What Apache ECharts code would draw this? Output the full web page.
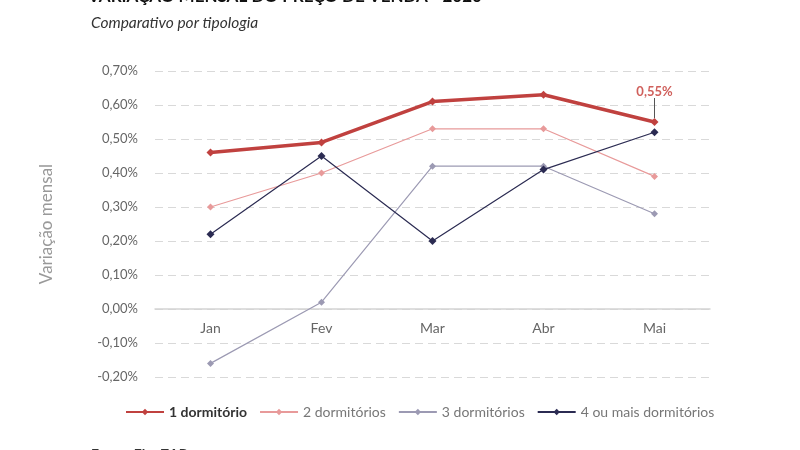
<!DOCTYPE html>
<html>
<head>
<meta charset="utf-8">
<script src="https://cdn.jsdelivr.net/npm/echarts@6/dist/echarts.min.js"></script>
<style>
  html, body { margin: 0; padding: 0; background: #fff; }
  #chart { width: 800px; height: 450px; }
</style>
</head>
<body>
<div id="chart"></div>
<script>
// dados
var meses = ['Jan', 'Fev', 'Mar', 'Abr', 'Mai'];
var nomes = ['1 dormitório', '2 dormitórios', '3 dormitórios', '4 ou mais dormitórios'];
var umDorm = [0.46, 0.49, 0.61, 0.63, 0.55];
var doisDorm = [0.30, 0.40, 0.53, 0.53, 0.39];
var tresDorm = [-0.16, 0.02, 0.42, 0.42, 0.28];
var quatroDorm = [0.22, 0.45, 0.20, 0.41, 0.52];
var cores = ['#c0413f', '#e89a9a', '#9c9ab3', '#2b2b52'];

var fonte = 'Lato';

function pct(v) {
	return v.toFixed(2).replace('.', ',') + '%';
}

var chart = echarts.init(document.getElementById('chart'));

function serie(nome, dados, cor, largura, tam) {
	return {
		name: nome,
		type: 'line',
		data: dados,
		symbol: 'diamond',
		symbolSize: tam,
		lineStyle: { color: cor, width: largura },
		itemStyle: { color: cor },
		emphasis: { disabled: true }
	};
}

var s1 = serie(nomes[0], umDorm.map(function (v, i) {
	if (i === umDorm.length - 1) {
		return {
			value: v,
			label: {
				show: true,
				position: 'top',
				distance: 20,
				formatter: function (p) { return pct(p.value); },
				color: '#d0605c',
				fontWeight: 'bold',
				fontSize: 13,
				fontFamily: fonte
			},
			labelLine: { show: true, lineStyle: { color: '#555', width: 1 } }
		};
	}
	return v;
}), cores[0], 3.5, 8);
s1.z = 5;
s1.labelLayout = { dx: 0 };

var option = {
	animation: false,
	textStyle: { fontFamily: fonte },
	graphic: [
		{
			type: 'text', left: 88, top: -12,
			style: { text: 'VARIAÇÃO MENSAL DO PREÇO DE VENDA - 2020', font: 'bold 17px Lato', fill: '#111' }
		},
		{
			type: 'text', left: 91, top: 15,
			style: { text: 'Comparativo por tipologia', font: 'italic 15.5px Lato', fill: '#333' }
		},
		{
			type: 'text', left: 91, top: 447,
			style: { text: 'Fonte: FipeZAP', font: 'bold 14px Lato', fill: '#333' }
		}
	],
	grid: { left: 155, right: 90, top: 71, bottom: 73 },
	legend: {
		bottom: 26,
		left: 120,
		itemWidth: 38,
		itemHeight: 8,
		itemGap: 12,
		data: nomes,
		formatter: function (n) {
			return n === nomes[0] ? '{b|' + n + '}' : n;
		},
		textStyle: {
			color: '#777', fontSize: 14, fontFamily: fonte,
			rich: { b: { fontWeight: 'bold', color: '#333', fontSize: 14, fontFamily: fonte } }
		},
		selectedMode: false
	},
	xAxis: {
		type: 'category',
		data: meses,
		boundaryGap: true,
		offset: -68,
		axisTick: { show: false },
		axisLine: { onZero: false, lineStyle: { color: '#d4d4d4', width: 1.5 } },
		axisLabel: { color: '#666', fontSize: 14, margin: 12 }
	},
	yAxis: {
		type: 'value',
		min: -0.2,
		max: 0.7,
		interval: 0.1,
		name: 'Variação mensal',
		nameLocation: 'middle',
		nameGap: 100,
		nameTextStyle: { color: '#999', fontSize: 17, fontFamily: fonte },
		axisLine: { show: false },
		axisTick: { show: false },
		axisLabel: {
			color: '#666', fontSize: 13, margin: 17,
			formatter: function (v) { return pct(v); }
		},
		splitLine: { lineStyle: { color: '#d9d9d9', type: [8, 5], width: 1 } }
	},
	series: [
		s1,
		serie(nomes[1], doisDorm, cores[1], 1.2, 7),
		serie(nomes[2], tresDorm, cores[2], 1.2, 7),
		serie(nomes[3], quatroDorm, cores[3], 1.2, 8)
	]
};

chart.setOption(option);
</script>
</body>
</html>
